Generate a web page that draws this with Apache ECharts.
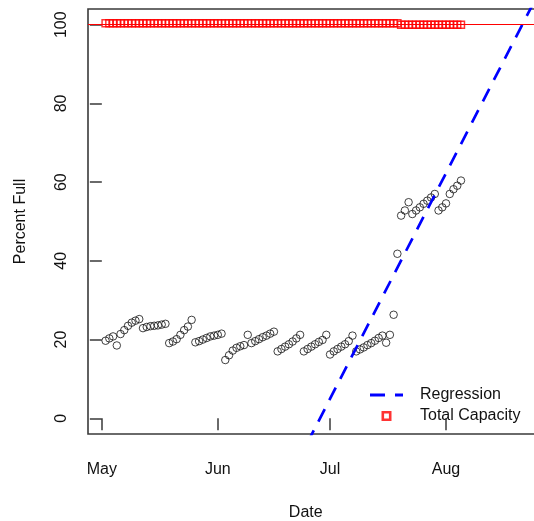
<!DOCTYPE html>
<html>
<head>
<meta charset="utf-8">
<script src="https://cdn.jsdelivr.net/npm/echarts@6/dist/echarts.min.js"></script>
<style>
  html, body { margin: 0; padding: 0; background: #fff; }
  #chart { width: 534px; height: 521px; }
</style>
</head>
<body>
<div id="chart"></div>
<script>
(function () {
    'use strict';

    // x values are days after May 1
    var monthLabels = ['May', 'Jun', 'Jul', 'Aug'];
    var monthStartDays = [0, 31, 61, 92];
    var firstDay = 1; // first reading: May 2, one per day after that

    var percentFull = [
        19.7, 20.3, 20.8, 18.5, 21.4, 22.4, 23.5, 24.3, 24.8, 25.2,
        22.9, 23.2, 23.4, 23.5, 23.6, 23.8, 24.0,
        19.1, 19.5, 20.1, 21.2, 22.4, 23.3, 25.0,
        19.3, 19.6, 20.0, 20.4, 20.8, 21.0, 21.2, 21.5,
        14.8, 16.0, 17.2, 17.9, 18.3, 18.6, 21.2,
        19.1, 19.6, 20.1, 20.6, 21.0, 21.5, 22.0,
        17.0, 17.6, 18.2, 18.8, 19.5, 20.3, 21.2,
        17.0, 17.6, 18.2, 18.8, 19.4, 19.9, 21.2,
        16.2, 17.0, 17.6, 18.2, 18.8, 19.6, 21.0,
        17.0, 17.5, 18.0, 18.6, 19.1, 19.7, 20.4, 21.0, 19.2, 21.2,
        26.3, 41.8, 51.5, 52.8, 54.9, 51.9, 52.8, 53.6, 54.5, 55.3, 56.1, 57.0,
        52.8, 53.6, 54.6, 57.0, 58.2, 59.1, 60.4
    ];

    var totalCapacity = [
        100.4, 100.4, 100.4, 100.4, 100.4, 100.4, 100.4, 100.4, 100.4, 100.4,
        100.4, 100.4, 100.4, 100.4, 100.4, 100.4, 100.4, 100.4, 100.4, 100.4,
        100.4, 100.4, 100.4, 100.4, 100.4, 100.4, 100.4, 100.4, 100.4, 100.4,
        100.4, 100.4, 100.4, 100.4, 100.4, 100.4, 100.4, 100.4, 100.4, 100.4,
        100.4, 100.4, 100.4, 100.4, 100.4, 100.4, 100.4, 100.4, 100.4, 100.4,
        100.4, 100.4, 100.4, 100.4, 100.4, 100.4, 100.4, 100.4, 100.4, 100.4,
        100.4, 100.4, 100.4, 100.4, 100.4, 100.4, 100.4, 100.4, 100.4, 100.4,
        100.4, 100.4, 100.4, 100.4, 100.4, 100.4, 100.4, 100.4, 100.4,
        100, 100, 100, 100, 100, 100, 100, 100, 100, 100,
        100, 100, 100, 100, 100, 100, 100
    ];

    // percent = intercept + slope * day
    var regressionCoef = [-107.9, 1.85];
    var yTicks = [0, 20, 40, 60, 80, 100];
    var capacityLine = 100;

    var xMin = -3.7, xMax = 121, yMin = -4, yMax = 104;
    var font = "'Liberation Sans', Arial, sans-serif";
    var ink = '#111';
    var frame = '#3a3a3a';

    var fullPoints = percentFull.map(function (v, i) { return [firstDay + i, v]; });
    var capPoints = totalCapacity.map(function (v, i) { return [firstDay + i, v]; });
    var regPoints = [xMin, xMax].map(function (d) {
        return [d, regressionCoef[0] + regressionCoef[1] * d];
    });

    var chart = echarts.init(document.getElementById('chart'), null, { renderer: 'canvas' });

    var option = {
        animation: false,
        backgroundColor: '#fff',
        textStyle: { fontFamily: font },
        grid: {
            show: true,
            left: 88,
            top: 9,
            right: -20.5,
            bottom: 87,
            containLabel: false,
            outerBoundsMode: 'none',
            borderColor: frame,
            borderWidth: 1.6,
            backgroundColor: 'transparent'
        },
        legend: {
            orient: 'vertical',
            left: 370,
            top: 387,
            padding: 0,
            itemWidth: 33,
            itemHeight: 10,
            itemGap: 5,
            selectedMode: false,
            textStyle: { fontSize: 16, color: ink, fontFamily: font, padding: [0, 0, 0, 12] },
            data: [
                {
                    name: 'Regression',
                    icon: 'path://M0,0H15V3H0Z M25,0H33V3H25Z',
                    itemStyle: { color: '#0000ff', borderWidth: 0 }
                },
                {
                    name: 'Total Capacity',
                    icon: 'path://M0,0H10V10H0Z M2.6,2.6V7.4H7.4V2.6Z',
                    itemStyle: { color: '#ff0000', borderWidth: 0 }
                }
            ]
        },
        xAxis: {
            type: 'value',
            min: xMin,
            max: xMax,
            name: 'Date',
            nameLocation: 'middle',
            nameGap: 71,
            nameTextStyle: { fontSize: 16, color: ink, fontFamily: font, padding: [0, 31, 0, 0] },
            axisLine: { show: false },
            splitLine: { show: false },
            axisTick: {
                show: true,
                length: 12,
                customValues: monthStartDays,
                lineStyle: { color: frame, width: 1.5 }
            },
            axisLabel: {
                customValues: monthStartDays,
                margin: 28,
                fontSize: 16,
                color: ink,
                fontFamily: font,
                formatter: function (v) {
                    var i = monthStartDays.indexOf(v);
                    return i >= 0 ? monthLabels[i] : '';
                }
            }
        },
        yAxis: {
            type: 'value',
            min: yMin,
            max: yMax,
            name: 'Percent Full',
            nameLocation: 'middle',
            nameGap: 59,
            nameTextStyle: { fontSize: 16, color: ink, fontFamily: font },
            axisLine: { show: false },
            splitLine: { show: false },
            axisTick: {
                show: true,
                length: 12,
                customValues: yTicks,
                lineStyle: { color: frame, width: 1.5 }
            },
            axisLabel: {
                customValues: yTicks,
                rotate: 90,
                margin: 18,
                fontSize: 16,
                color: ink,
                fontFamily: font
            }
        },
        series: [
            {
                name: 'Percent Full',
                type: 'scatter',
                data: fullPoints,
                symbol: 'circle',
                symbolSize: 7.5,
                silent: true,
                itemStyle: { color: 'rgba(0,0,0,0)', borderColor: '#111', borderWidth: 1 }
            },
            {
                name: 'Total Capacity',
                type: 'scatter',
                data: capPoints,
                symbol: 'rect',
                symbolSize: 7,
                silent: true,
                itemStyle: { color: 'rgba(0,0,0,0)', borderColor: '#ff0000', borderWidth: 1.5 },
                markLine: {
                    silent: true,
                    symbol: ['none', 'none'],
                    label: { show: false },
                    lineStyle: { color: '#ff0000', type: 'solid', width: 1 },
                    data: [{ yAxis: capacityLine }]
                }
            },
            {
                name: 'Regression',
                type: 'line',
                data: regPoints,
                showSymbol: false,
                symbol: 'none',
                silent: true,
                clip: true,
                lineStyle: { color: '#0000ff', width: 2.7, type: [14, 10] }
            }
        ]
    };

    chart.setOption(option);
})();
</script>
</body>
</html>
